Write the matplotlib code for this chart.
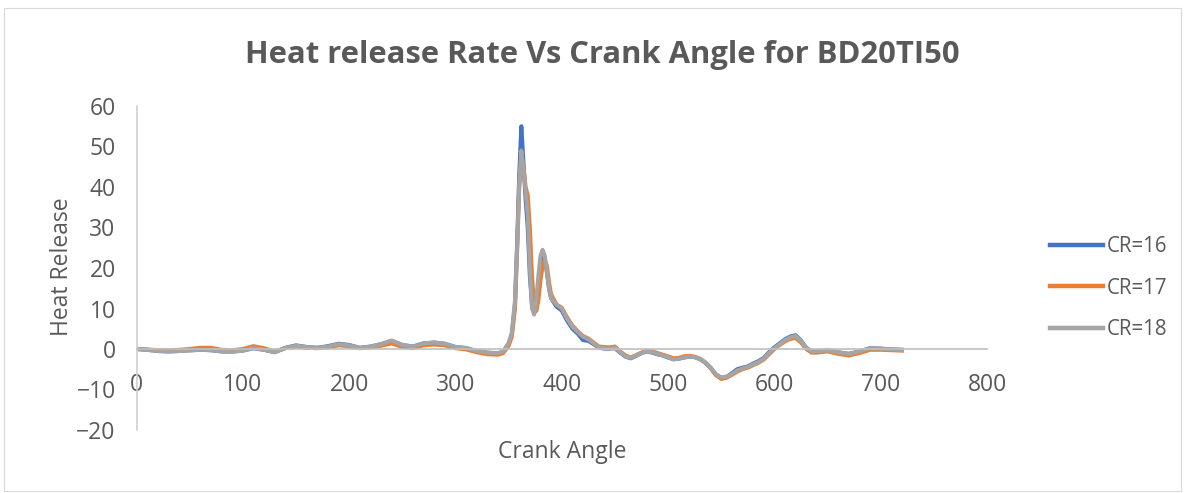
import matplotlib.pyplot as plt
from matplotlib.patches import Rectangle

plt.rcParams['font.family'] = ['Open Sans', 'DejaVu Sans']
TXT = '#595959'

# crank angle (deg)
angle = [0, 10, 20, 30, 40, 50, 60, 70, 80, 90, 100, 110, 120, 130, 140, 150, 160,
         170, 180, 190, 200, 210, 220, 230, 240, 250, 260, 270, 280, 290, 300, 310,
         320, 330, 340, 345, 350, 353, 356, 358, 360, 362, 364, 366, 368, 370, 372,
         374, 376, 378, 380, 382, 384, 386, 388, 390, 395, 400, 405, 410, 415, 420,
         425, 430, 435, 440, 445, 450, 455, 460, 465, 470, 475, 480, 485, 490, 495,
         500, 505, 510, 515, 520, 525, 530, 535, 540, 545, 550, 555, 560, 565, 570,
         575, 580, 585, 590, 595, 600, 605, 610, 615, 620, 625, 630, 635, 640, 650,
         660, 670, 680, 690, 700, 710, 720]

cr16 = [0.0, -0.2, -0.5, -0.6, -0.5, -0.3, -0.2, -0.3, -0.6, -0.6, -0.4, 0.2, -0.2, -0.8, 0.3, 0.9,
        0.5, 0.3, 0.7, 1.3, 1.0, 0.3, 0.6, 1.2, 2.0, 1.0, 0.6, 1.4, 1.6, 1.3, 0.5, 0.2,
        -0.5, -0.9, -1.1, -0.7, 1.3, 3.5, 11.0, 26.0, 43.0, 55.0, 46.0, 37.0, 30.0, 18.0, 11.0,
        9.0, 9.5, 14.0, 20.0, 22.5, 22.0, 19.0, 15.0, 12.5, 10.5, 9.5, 7.0, 5.0, 3.8, 2.2,
        2.0, 1.2, 0.3, 0.1, 0.1, 0.2, -0.9, -1.9, -2.3, -1.7, -1.0, -0.6, -0.9, -1.3, -1.6,
        -2.1, -2.5, -2.4, -2.1, -1.9, -2.0, -2.5, -3.4, -4.7, -6.4, -7.2, -6.9, -6.0, -5.0, -4.6,
        -4.3, -3.6, -3.0, -2.2, -0.8, 0.4, 1.4, 2.4, 3.1, 3.4, 2.1, 0.3, -0.6, -0.6, -0.3,
        -0.8, -1.2, -0.6, 0.2, 0.1, -0.1, -0.2]

cr17 = [0.0, -0.1, -0.3, -0.3, -0.2, 0.0, 0.3, 0.3, -0.2, -0.3, 0.0, 0.7, 0.2, -0.6, 0.2, 0.6,
        0.3, 0.2, 0.4, 0.9, 0.7, 0.2, 0.4, 0.8, 1.4, 0.5, 0.2, 0.9, 1.1, 0.9, 0.2, -0.1,
        -0.8, -1.3, -1.4, -1.0, 0.8, 3.0, 10.0, 24.0, 40.0, 48.0, 45.0, 40.0, 38.0, 30.0, 18.0,
        11.0, 9.5, 12.0, 17.0, 20.5, 22.0, 20.5, 16.5, 13.5, 11.0, 10.2, 7.8, 5.8, 4.4, 3.2,
        2.6, 1.6, 0.6, 0.5, 0.4, 0.6, -0.6, -1.6, -2.1, -1.5, -0.9, -0.4, -0.6, -1.0, -1.4,
        -1.8, -2.3, -2.2, -1.8, -1.7, -1.9, -2.4, -3.3, -4.6, -6.4, -7.4, -7.1, -6.4, -5.6, -5.0,
        -4.6, -4.0, -3.4, -2.6, -1.3, 0.0, 1.0, 1.9, 2.5, 2.7, 1.6, 0.0, -0.9, -0.9, -0.6,
        -1.2, -1.6, -1.0, -0.2, -0.2, -0.3, -0.4]

cr18 = [0.0, -0.2, -0.5, -0.6, -0.5, -0.4, -0.2, -0.3, -0.6, -0.7, -0.4, 0.2, -0.2, -0.8, 0.2, 0.8,
        0.5, 0.3, 0.6, 1.2, 0.9, 0.3, 0.6, 1.2, 2.1, 1.0, 0.6, 1.4, 1.6, 1.3, 0.5, 0.3,
        -0.5, -0.9, -1.0, -0.6, 1.5, 4.0, 12.0, 25.0, 40.0, 49.0, 44.0, 39.0, 33.0, 20.0, 10.0,
        8.5, 12.0, 18.0, 23.0, 24.5, 23.0, 19.0, 15.0, 12.5, 11.0, 10.0, 7.5, 5.5, 4.2, 3.0,
        2.4, 1.4, 0.4, 0.2, 0.1, 0.3, -0.8, -1.8, -2.2, -1.6, -1.0, -0.6, -0.8, -1.2, -1.6,
        -2.0, -2.6, -2.4, -2.1, -1.9, -2.0, -2.5, -3.3, -4.6, -6.2, -7.0, -6.8, -6.2, -5.3, -4.8,
        -4.4, -3.8, -3.2, -2.4, -1.0, 0.2, 1.2, 2.2, 2.9, 3.2, 2.0, 0.3, -0.6, -0.6, -0.3,
        -0.8, -1.2, -0.6, 0.2, 0.1, -0.1, -0.2]

fig = plt.figure(figsize=(11.85, 4.93), dpi=100)
fig.patches.append(Rectangle((4 / 1185, 2 / 493), 1177 / 1185, 483 / 493, transform=fig.transFigure,
                             fill=False, edgecolor='#d9d9d9', linewidth=0.8))
ax = fig.add_axes([136.5 / 1185, 1 - 430 / 493, (987 - 136.5) / 1185, (430 - 106) / 493])

ax.plot(angle, cr16, color='#4472C4', linewidth=2.9, label='CR=16')
ax.plot(angle, cr17, color='#ED7D31', linewidth=2.9, label='CR=17')
ax.plot(angle, cr18, color='#A5A5A5', linewidth=2.9, label='CR=18')

ax.set_xlim(0, 800)
ax.set_ylim(-20, 60)
ax.set_xticks(range(0, 801, 100))
ax.set_yticks(range(-20, 61, 10))

for s in ['top', 'right']:
    ax.spines[s].set_visible(False)
ax.spines['bottom'].set_position(('data', 0))
ax.spines['bottom'].set_color('#bfbfbf')
ax.spines['left'].set_color('#d0d0d0')
ax.spines['bottom'].set_linewidth(1.2)
ax.spines['left'].set_linewidth(1.2)
ax.set_zorder(1)

ax.tick_params(axis='x', length=0, pad=17, labelsize=16.5, labelcolor=TXT)
ax.tick_params(axis='y', length=0, pad=15, labelsize=16.5, labelcolor=TXT)

fig.text(602 / 1185, 1 - 55 / 493, 'Heat release Rate Vs Crank Angle for BD20TI50',
         ha='center', va='center', fontsize=22.3, fontweight='bold', color=TXT)
fig.text(562 / 1185, 1 - 452 / 493, 'Crank Angle', ha='center', va='center',
         fontsize=16.5, color=TXT)
fig.text(62 / 1185, 1 - 267 / 493, 'Heat Release', ha='center', va='center',
         rotation=90, fontsize=16.5, color=TXT)

leg = fig.legend(loc='center left', bbox_to_anchor=(1031 / 1185, 1 - 288 / 493), frameon=False,
                 fontsize=14.8, handlelength=2.6, handletextpad=0.2, labelspacing=1.0)
for t in leg.get_texts():
    t.set_color(TXT)
for h in leg.get_lines():
    h.set_linewidth(3.2)

fig.savefig('out.png', dpi=100)
